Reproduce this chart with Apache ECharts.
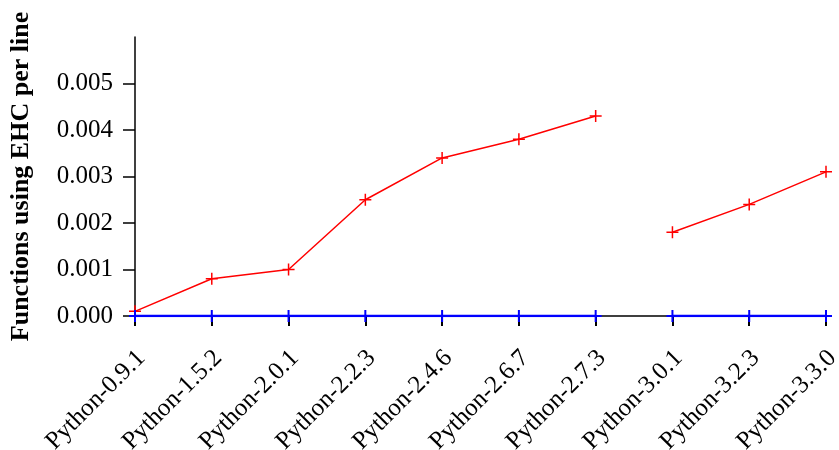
<!DOCTYPE html>
<html><head><meta charset="utf-8">
<script src="https://cdn.jsdelivr.net/npm/echarts@6/dist/echarts.min.js"></script>
<style>html,body{margin:0;padding:0;background:#fff}#c{width:839px;height:450px}</style>
</head><body><div id="c"></div>
<script>
const categories = ['Python-0.9.1','Python-1.5.2','Python-2.0.1','Python-2.2.3','Python-2.4.6','Python-2.6.7','Python-2.7.3','Python-3.0.1','Python-3.2.3','Python-3.3.0'];
const ehcPy2 = [0.0001, 0.0008, 0.0010, 0.0025, 0.0034, 0.0038, 0.0043, null, null, null];
const ehcPy3 = [null, null, null, null, null, null, null, 0.0018, 0.0024, 0.0031];
const basePy2 = [0, 0, 0, 0, 0, 0, 0, null, null, null];
const basePy3 = [null, null, null, null, null, null, null, 0, 0, 0];
const yTicks = [0, 0.001, 0.002, 0.003, 0.004, 0.005];

const FONT = "'Liberation Serif','Times New Roman',serif";
const plus = 'path://M5,0L5,10M0,5L10,5';
function mk(data, color, lw, bw, z) {
  return {type:'line', data, symbol: plus, symbolSize: 12, showSymbol:true,
    lineStyle:{color, width: lw}, itemStyle:{color, borderColor: color, borderWidth: bw},
    z, animation:false, connectNulls:false};
}
const chart = echarts.init(document.getElementById('c'), null, {renderer:'canvas'});
chart.setOption({
  backgroundColor:'#fff',
  animation:false,
  grid:{left:135, right:13, top:37, bottom:134, containLabel:false, outerBoundsMode:'none'},
  xAxis:{type:'category', data: categories, boundaryGap:false,
    axisLine:{lineStyle:{color:'#000', width:1.5}},
    axisTick:{alignWithLabel:true, length:10, lineStyle:{color:'#000', width:2}},
    axisLabel:{rotate:45, margin:32, color:'#000', fontSize:25, lineHeight:18, fontFamily:FONT, interval:0,
      align:'right', verticalAlign:'top', hideOverlap:false},
    splitLine:{show:false}},
  yAxis:{type:'value', min:0, max:0.006, interval:0.001,
    name:'Functions using EHC per line', nameLocation:'middle', nameGap:101,
    nameTextStyle:{color:'#000', fontSize:26, fontWeight:'bold', fontFamily:FONT},
    axisLine:{show:true, lineStyle:{color:'#000', width:1.5}},
    axisTick:{show:true, length:12, lineStyle:{color:'#000', width:1.5}, customValues: yTicks},
    axisLabel:{color:'#000', fontSize:25, fontFamily:FONT, margin:22, customValues: yTicks,
      formatter: v => Number(v).toFixed(3)},
    splitLine:{show:false}},
  series:[
    mk(ehcPy2, '#ff0000', 1.5, 1.5, 2),
    mk(ehcPy3, '#ff0000', 1.5, 1.5, 2),
    mk(basePy2, '#0000ff', 2.5, 2, 3),
    mk(basePy3, '#0000ff', 2.5, 2, 3)
  ]
});
</script></body></html>
